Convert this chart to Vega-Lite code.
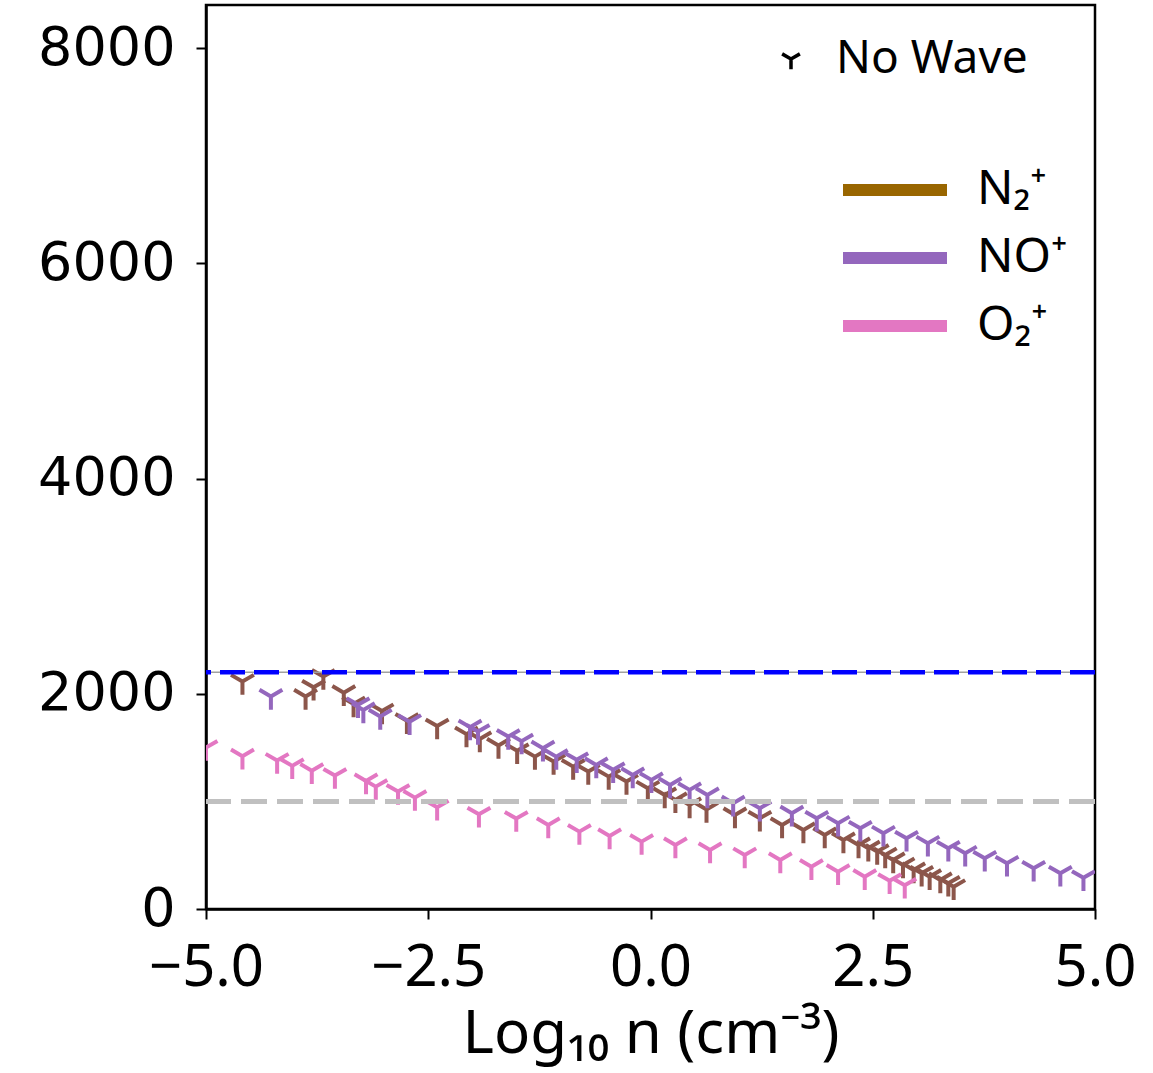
{
  "$schema": "https://vega.github.io/schema/vega-lite/v6.json",
  "width": 889,
  "height": 904,
  "autosize": {"type": "none"},
  "padding": {"left": 206, "top": 5, "right": 58, "bottom": 164},
  "background": "white",
  "config": {
    "view": {"stroke": "black", "strokeWidth": 2.5},
    "axis": {"grid": false, "domainColor": "black", "domainWidth": 2.5, "tickColor": "black", "tickWidth": 2, "tickSize": 10, "labelColor": "black", "titleColor": "black"}
  },
  "datasets": {
    "pts": [
      {"x": -4.59, "y": 2114, "ion": "N₂⁺", "wave": "No Wave"},
      {"x": -3.88, "y": 1975, "ion": "N₂⁺", "wave": "No Wave"},
      {"x": -3.79, "y": 2060, "ion": "N₂⁺", "wave": "No Wave"},
      {"x": -3.68, "y": 2160, "ion": "N₂⁺", "wave": "No Wave"},
      {"x": -3.45, "y": 2010, "ion": "N₂⁺", "wave": "No Wave"},
      {"x": -3.34, "y": 1905, "ion": "N₂⁺", "wave": "No Wave"},
      {"x": -3.02, "y": 1840, "ion": "N₂⁺", "wave": "No Wave"},
      {"x": -2.74, "y": 1750, "ion": "N₂⁺", "wave": "No Wave"},
      {"x": -2.40, "y": 1700, "ion": "N₂⁺", "wave": "No Wave"},
      {"x": -2.07, "y": 1625, "ion": "N₂⁺", "wave": "No Wave"},
      {"x": -1.92, "y": 1580, "ion": "N₂⁺", "wave": "No Wave"},
      {"x": -1.71, "y": 1520, "ion": "N₂⁺", "wave": "No Wave"},
      {"x": -1.50, "y": 1470, "ion": "N₂⁺", "wave": "No Wave"},
      {"x": -1.30, "y": 1416, "ion": "N₂⁺", "wave": "No Wave"},
      {"x": -1.09, "y": 1370, "ion": "N₂⁺", "wave": "No Wave"},
      {"x": -0.87, "y": 1323, "ion": "N₂⁺", "wave": "No Wave"},
      {"x": -0.70, "y": 1277, "ion": "N₂⁺", "wave": "No Wave"},
      {"x": -0.47, "y": 1230, "ion": "N₂⁺", "wave": "No Wave"},
      {"x": -0.27, "y": 1184, "ion": "N₂⁺", "wave": "No Wave"},
      {"x": -0.03, "y": 1122, "ion": "N₂⁺", "wave": "No Wave"},
      {"x": 0.16, "y": 1060, "ion": "N₂⁺", "wave": "No Wave"},
      {"x": 0.28, "y": 1014, "ion": "N₂⁺", "wave": "No Wave"},
      {"x": 0.44, "y": 967, "ion": "N₂⁺", "wave": "No Wave"},
      {"x": 0.63, "y": 925, "ion": "N₂⁺", "wave": "No Wave"},
      {"x": 0.95, "y": 874, "ion": "N₂⁺", "wave": "No Wave"},
      {"x": 1.23, "y": 843, "ion": "N₂⁺", "wave": "No Wave"},
      {"x": 1.48, "y": 781, "ion": "N₂⁺", "wave": "No Wave"},
      {"x": 1.72, "y": 735, "ion": "N₂⁺", "wave": "No Wave"},
      {"x": 1.96, "y": 688, "ion": "N₂⁺", "wave": "No Wave"},
      {"x": 2.17, "y": 642, "ion": "N₂⁺", "wave": "No Wave"},
      {"x": 2.34, "y": 595, "ion": "N₂⁺", "wave": "No Wave"},
      {"x": 2.45, "y": 565, "ion": "N₂⁺", "wave": "No Wave"},
      {"x": 2.55, "y": 533, "ion": "N₂⁺", "wave": "No Wave"},
      {"x": 2.64, "y": 502, "ion": "N₂⁺", "wave": "No Wave"},
      {"x": 2.73, "y": 456, "ion": "N₂⁺", "wave": "No Wave"},
      {"x": 2.84, "y": 409, "ion": "N₂⁺", "wave": "No Wave"},
      {"x": 2.96, "y": 363, "ion": "N₂⁺", "wave": "No Wave"},
      {"x": 3.05, "y": 332, "ion": "N₂⁺", "wave": "No Wave"},
      {"x": 3.14, "y": 300, "ion": "N₂⁺", "wave": "No Wave"},
      {"x": 3.26, "y": 270, "ion": "N₂⁺", "wave": "No Wave"},
      {"x": 3.35, "y": 239, "ion": "N₂⁺", "wave": "No Wave"},
      {"x": 3.41, "y": 207, "ion": "N₂⁺", "wave": "No Wave"},
      {"x": -4.27, "y": 1975, "ion": "NO⁺", "wave": "No Wave"},
      {"x": -3.29, "y": 1897, "ion": "NO⁺", "wave": "No Wave"},
      {"x": -3.23, "y": 1850, "ion": "NO⁺", "wave": "No Wave"},
      {"x": -3.04, "y": 1789, "ion": "NO⁺", "wave": "No Wave"},
      {"x": -2.71, "y": 1740, "ion": "NO⁺", "wave": "No Wave"},
      {"x": -2.03, "y": 1690, "ion": "NO⁺", "wave": "No Wave"},
      {"x": -1.94, "y": 1649, "ion": "NO⁺", "wave": "No Wave"},
      {"x": -1.60, "y": 1602, "ion": "NO⁺", "wave": "No Wave"},
      {"x": -1.45, "y": 1560, "ion": "NO⁺", "wave": "No Wave"},
      {"x": -1.21, "y": 1494, "ion": "NO⁺", "wave": "No Wave"},
      {"x": -1.06, "y": 1416, "ion": "NO⁺", "wave": "No Wave"},
      {"x": -0.83, "y": 1386, "ion": "NO⁺", "wave": "No Wave"},
      {"x": -0.61, "y": 1339, "ion": "NO⁺", "wave": "No Wave"},
      {"x": -0.42, "y": 1293, "ion": "NO⁺", "wave": "No Wave"},
      {"x": -0.20, "y": 1246, "ion": "NO⁺", "wave": "No Wave"},
      {"x": 0.01, "y": 1200, "ion": "NO⁺", "wave": "No Wave"},
      {"x": 0.22, "y": 1153, "ion": "NO⁺", "wave": "No Wave"},
      {"x": 0.44, "y": 1107, "ion": "NO⁺", "wave": "No Wave"},
      {"x": 0.64, "y": 1060, "ion": "NO⁺", "wave": "No Wave"},
      {"x": 0.93, "y": 983, "ion": "NO⁺", "wave": "No Wave"},
      {"x": 1.23, "y": 936, "ion": "NO⁺", "wave": "No Wave"},
      {"x": 1.59, "y": 890, "ion": "NO⁺", "wave": "No Wave"},
      {"x": 1.87, "y": 843, "ion": "NO⁺", "wave": "No Wave"},
      {"x": 2.11, "y": 797, "ion": "NO⁺", "wave": "No Wave"},
      {"x": 2.36, "y": 750, "ion": "NO⁺", "wave": "No Wave"},
      {"x": 2.62, "y": 704, "ion": "NO⁺", "wave": "No Wave"},
      {"x": 2.88, "y": 657, "ion": "NO⁺", "wave": "No Wave"},
      {"x": 3.12, "y": 611, "ion": "NO⁺", "wave": "No Wave"},
      {"x": 3.35, "y": 564, "ion": "NO⁺", "wave": "No Wave"},
      {"x": 3.54, "y": 518, "ion": "NO⁺", "wave": "No Wave"},
      {"x": 3.76, "y": 471, "ion": "NO⁺", "wave": "No Wave"},
      {"x": 4.01, "y": 425, "ion": "NO⁺", "wave": "No Wave"},
      {"x": 4.31, "y": 378, "ion": "NO⁺", "wave": "No Wave"},
      {"x": 4.61, "y": 332, "ion": "NO⁺", "wave": "No Wave"},
      {"x": 4.87, "y": 290, "ion": "NO⁺", "wave": "No Wave"},
      {"x": -5.0, "y": 1500, "ion": "O₂⁺", "wave": "No Wave"},
      {"x": -4.59, "y": 1420, "ion": "O₂⁺", "wave": "No Wave"},
      {"x": -4.20, "y": 1380, "ion": "O₂⁺", "wave": "No Wave"},
      {"x": -4.03, "y": 1330, "ion": "O₂⁺", "wave": "No Wave"},
      {"x": -3.81, "y": 1285, "ion": "O₂⁺", "wave": "No Wave"},
      {"x": -3.55, "y": 1240, "ion": "O₂⁺", "wave": "No Wave"},
      {"x": -3.20, "y": 1190, "ion": "O₂⁺", "wave": "No Wave"},
      {"x": -3.09, "y": 1137, "ion": "O₂⁺", "wave": "No Wave"},
      {"x": -2.84, "y": 1091, "ion": "O₂⁺", "wave": "No Wave"},
      {"x": -2.65, "y": 1035, "ion": "O₂⁺", "wave": "No Wave"},
      {"x": -2.40, "y": 945, "ion": "O₂⁺", "wave": "No Wave"},
      {"x": -1.93, "y": 880, "ion": "O₂⁺", "wave": "No Wave"},
      {"x": -1.51, "y": 840, "ion": "O₂⁺", "wave": "No Wave"},
      {"x": -1.15, "y": 781, "ion": "O₂⁺", "wave": "No Wave"},
      {"x": -0.80, "y": 719, "ion": "O₂⁺", "wave": "No Wave"},
      {"x": -0.46, "y": 679, "ion": "O₂⁺", "wave": "No Wave"},
      {"x": -0.10, "y": 626, "ion": "O₂⁺", "wave": "No Wave"},
      {"x": 0.28, "y": 595, "ion": "O₂⁺", "wave": "No Wave"},
      {"x": 0.67, "y": 549, "ion": "O₂⁺", "wave": "No Wave"},
      {"x": 1.06, "y": 502, "ion": "O₂⁺", "wave": "No Wave"},
      {"x": 1.46, "y": 456, "ion": "O₂⁺", "wave": "No Wave"},
      {"x": 1.81, "y": 393, "ion": "O₂⁺", "wave": "No Wave"},
      {"x": 2.11, "y": 347, "ion": "O₂⁺", "wave": "No Wave"},
      {"x": 2.41, "y": 300, "ion": "O₂⁺", "wave": "No Wave"},
      {"x": 2.69, "y": 262, "ion": "O₂⁺", "wave": "No Wave"},
      {"x": 2.86, "y": 220, "ion": "O₂⁺", "wave": "No Wave"}
    ],
    "refs": [
      {"y": 2200, "kind": "blue"},
      {"y": 1000, "kind": "grey"}
    ]
  },
  "layer": [
    {
      "data": {"name": "pts"},
      "mark": {"type": "line", "opacity": 0, "strokeWidth": 12},
      "encoding": {
        "x": {"field": "x", "type": "quantitative",
          "scale": {"domain": [-5, 5], "nice": false, "zero": false},
          "axis": {"values": [-5, -2.5, 0, 2.5, 5], "format": ".1f", "labelFont": "Noto Sans", "labelFontSize": 58, "labelPadding": 20, "labelFlush": false,
            "title": "Log₁₀ n (cm⁻³)", "titleFont": "Noto Sans", "titleFontSize": 60, "titleFontWeight": "normal", "titlePadding": 8}},
        "y": {"field": "y", "type": "quantitative",
          "scale": {"domain": [0, 8400], "nice": false},
          "axis": {"values": [0, 2000, 4000, 6000, 8000], "format": "d", "labelFont": "DejaVu Sans", "labelFontSize": 54, "labelPadding": 21, "title": null}},
        "color": {"field": "ion", "type": "nominal",
          "scale": {"domain": ["N₂⁺", "NO⁺", "O₂⁺"], "range": ["#996600", "#9467bd", "#e377c2"]},
          "legend": {"title": null, "orient": "none", "legendX": 657, "legendY": 153, "padding": 0,
            "symbolType": "M-2,0H2", "symbolSize": 2704, "symbolStrokeWidth": 12, "symbolOpacity": 1,
            "labelFont": "Noto Sans", "labelFontSize": 48, "labelOffset": 50, "rowPadding": 12, "labelColor": "black", "labelLimit": 0}}
      }
    },
    {
      "data": {"name": "pts"},
      "mark": {"type": "point", "filled": false, "strokeWidth": 4, "size": 700, "opacity": 1, "clip": true},
      "encoding": {
        "x": {"field": "x", "type": "quantitative"},
        "y": {"field": "y", "type": "quantitative"},
        "stroke": {"field": "ion", "type": "nominal",
          "scale": {"domain": ["N₂⁺", "NO⁺", "O₂⁺"], "range": ["#8c564b", "#9467bd", "#e377c2"]},
          "legend": null},
        "shape": {"field": "wave", "type": "nominal",
          "scale": {"domain": ["No Wave"], "range": ["M0,0L0,1M0,0L-0.866,-0.5M0,0L0.866,-0.5"]},
          "legend": {"title": null, "orient": "none", "legendX": 562, "legendY": 31, "padding": 0,
            "symbolStrokeColor": "black", "symbolFillColor": "transparent", "symbolStrokeWidth": 3.5, "symbolSize": 420,
            "labelFont": "Noto Sans", "labelFontSize": 46, "labelOffset": 22, "labelColor": "black", "labelLimit": 0}}
      }
    },
    {
      "data": {"name": "refs"},
      "transform": [{"filter": "datum.kind === 'blue'"}],
      "mark": {"type": "rule", "color": "#a0a0a0", "strokeWidth": 1.5},
      "encoding": {"y": {"field": "y", "type": "quantitative"}}
    },
    {
      "data": {"name": "refs"},
      "transform": [{"filter": "datum.kind === 'blue'"}],
      "mark": {"type": "rule", "color": "#0000ff", "strokeWidth": 4.5, "strokeDash": [25, 9]},
      "encoding": {"y": {"field": "y", "type": "quantitative"}}
    },
    {
      "data": {"name": "refs"},
      "transform": [{"filter": "datum.kind === 'grey'"}],
      "mark": {"type": "rule", "color": "#c0c0c0", "strokeWidth": 5, "strokeDash": [26, 10]},
      "encoding": {"y": {"field": "y", "type": "quantitative"}}
    }
  ]
}
